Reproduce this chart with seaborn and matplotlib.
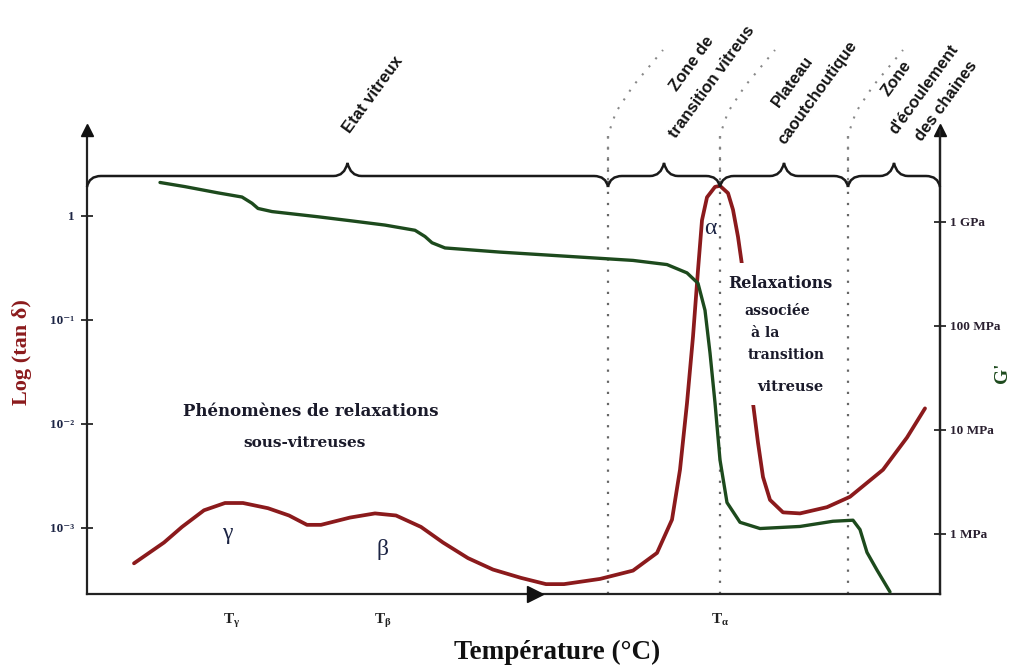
import numpy as np
import pandas as pd
import seaborn as sns
import matplotlib
matplotlib.use("Agg")
import matplotlib.pyplot as plt
from matplotlib.path import Path
from matplotlib.patches import PathPatch, Rectangle

# ---------------- data (temperature in arbitrary units) ----------------
red_T = [47, 77, 95, 117, 138, 156, 181, 202, 220, 234, 263, 288, 309, 334, 356,
         381, 406, 434, 459, 477, 513, 546, 570, 585, 593, 600, 606, 611, 615, 620,
         628, 633, 641, 646, 651, 655, 659, 663, 666, 671, 676, 683, 696, 713, 740,
         763, 796, 820, 838]
red_log_tan = [-3.34, -3.14, -2.99, -2.83, -2.76, -2.76, -2.81, -2.88, -2.97, -2.97,
               -2.90, -2.86, -2.88, -2.99, -3.14, -3.29, -3.40, -3.48, -3.54, -3.54,
               -3.49, -3.41, -3.24, -2.92, -2.44, -1.80, -1.16, -0.52, -0.04, 0.18,
               0.28, 0.29, 0.22, 0.06, -0.20, -0.47, -0.81, -1.29, -1.80, -2.18,
               -2.51, -2.73, -2.85, -2.86, -2.80, -2.70, -2.44, -2.13, -1.85]

green_T = [73, 98, 131, 155, 165, 171, 185, 231, 265, 298, 328, 338, 345, 358, 413,
           463, 513, 546, 580, 600, 611, 618, 623, 628, 633, 640, 653, 673, 713, 746,
           766, 773, 780, 790, 803]
green_log_G = [9.38, 9.34, 9.28, 9.24, 9.18, 9.13, 9.10, 9.05, 9.01, 8.97, 8.92, 8.86,
               8.80, 8.75, 8.71, 8.68, 8.65, 8.63, 8.59, 8.51, 8.41, 8.15, 7.74, 7.26,
               6.71, 6.30, 6.11, 6.05, 6.07, 6.12, 6.13, 6.04, 5.82, 5.65, 5.44]

x_ticks = [145, 296, 633]
x_ticklabels = [r"T$_{γ}$", r"T$_{β}$", r"T$_{α}$"]
zone_bounds = [0, 521, 633, 761, 853]
left_ticks = [1, 0.1, 0.01, 0.001]
left_ticklabels = ["1", "10⁻¹", "10⁻²", "10⁻³"]
right_ticks = [1e9, 1e8, 1e7, 1e6]
right_ticklabels = ["1 GPa", "100 MPa", "10 MPa", "1 MPa"]

red_df = pd.DataFrame({"T": red_T, "tan": 10 ** np.array(red_log_tan)})
green_df = pd.DataFrame({"T": green_T, "G": 10 ** np.array(green_log_G)})

RED = "#8b1a1c"
GREEN = "#1d4a1d"
NAVY = "#1c2444"
INK = "#1a1a2a"

sns.set_style("white")
plt.rcParams["font.family"] = ["Liberation Serif", "DejaVu Serif"]
plt.rcParams["mathtext.fontset"] = "custom"
plt.rcParams["mathtext.rm"] = "Liberation Serif:bold"
plt.rcParams["mathtext.it"] = "Liberation Serif:bold"
plt.rcParams["mathtext.default"] = "regular"

fig = plt.figure(figsize=(10.16, 6.69), dpi=100)
W, H = 1016, 669
ax = fig.add_axes([87 / W, (H - 594) / H, 853 / W, 464 / H])
ax.set_facecolor("none")
ax.set_yscale("log")
ax.set_xlim(0, 853)
ax.set_ylim(10 ** -3.635, 10 ** 0.827)

ax2 = ax.twinx()
ax2.set_yscale("log")
ax2.set_ylim(10 ** 5.42, 10 ** 9.885)

sns.lineplot(data=red_df, x="T", y="tan", ax=ax, color=RED, lw=2.7, sort=False,
             estimator=None, zorder=3)
sns.lineplot(data=green_df, x="T", y="G", ax=ax2, color=GREEN, lw=2.4, sort=False,
             estimator=None, zorder=3)

for a in (ax, ax2):
    a.set_xlabel("")
    a.set_ylabel("")
    a.spines["top"].set_visible(False)
    a.minorticks_off()
    a.grid(False)

for s in ("left", "bottom", "right"):
    for a in (ax, ax2):
        a.spines[s].set_color("#222222")
        a.spines[s].set_linewidth(1.6)
ax2.spines["left"].set_visible(False)
ax2.spines["bottom"].set_visible(False)

# zone dotted lines
for xb in zone_bounds[1:-1]:
    ax.axvline(xb, color="#666666", lw=1.6, ls=(0, (1, 4)), zorder=1)

ax.set_xticks(x_ticks)
ax.set_xticklabels(x_ticklabels)
ax.tick_params(axis="x", direction="inout", length=14, width=1.3, pad=6,
               labelsize=11, colors="#222222")
for t in ax.get_xticklabels():
    t.set_fontweight("bold")

ax.set_yticks(left_ticks)
ax.set_yticklabels(left_ticklabels)
ax.tick_params(axis="y", direction="inout", length=8, width=1.3, pad=5,
               labelsize=9.5, labelcolor=NAVY)
for t in ax.get_yticklabels():
    t.set_fontweight("bold")

ax2.set_yticks(right_ticks)
ax2.set_yticklabels(right_ticklabels)
ax2.tick_params(axis="y", direction="inout", length=8, width=1.3, pad=3,
                labelsize=9.5, labelcolor="#2a2030")
for t in ax2.get_yticklabels():
    t.set_fontweight("bold")

# arrow heads on axes
ax.plot([0], [1], marker="^", ms=9, color="#111111", transform=ax.transAxes,
        clip_on=False, zorder=5)
ax.plot([1], [1], marker="^", ms=9, color="#111111", transform=ax.transAxes,
        clip_on=False, zorder=5)
ax.plot([448], [0], marker=">", ms=11, color="#111111",
        transform=ax.get_xaxis_transform(), clip_on=False, zorder=5)

# ---------------- overlay in pixel coordinates ----------------
ov = fig.add_axes([0, 0, 1, 1])
ov.set_xlim(0, W)
ov.set_ylim(H, 0)
ov.axis("off")
ov.set_facecolor("none")


def px(xdata):
    return 87 + xdata * 853 / 853.0


# braces
yb, hup, dn, r = 176, 13, 11, 14
verts, codes = [], []
for a0, a1 in zip(zone_bounds[:-1], zone_bounds[1:]):
    xa, xb_ = px(a0), px(a1)
    xm = (xa + xb_) / 2
    seg = [(xa, yb + dn), (xa + 2, yb), (xa + r, yb),
           (xm - r, yb), (xm - 3, yb), (xm, yb - hup),
           (xm + 3, yb), (xm + r, yb),
           (xb_ - r, yb), (xb_ - 2, yb), (xb_, yb + dn)]
    c = [Path.MOVETO, Path.CURVE3, Path.CURVE3,
         Path.LINETO, Path.CURVE3, Path.CURVE3,
         Path.CURVE3, Path.CURVE3,
         Path.LINETO, Path.CURVE3, Path.CURVE3]
    verts += seg
    codes += c
ov.add_patch(PathPatch(Path(verts, codes), fill=False, lw=1.8, ec="#1a1a1a"))

# slanted dotted guides above zone boundaries
for xb in zone_bounds[1:-1]:
    x0 = px(xb)
    gx = [x0, x0, x0 + 8, x0 + 25, x0 + 55]
    gy = [180, 135, 112, 86, 50]
    ov.plot(gx, gy, color="#888888", lw=1.5, ls=(0, (1, 4)))

# mask part of the red curve behind the text
ov.add_patch(Rectangle((736, 263), 24, 142, fc="white", ec="none"))

sans = ["Liberation Sans", "DejaVu Sans"]
rot = 54
top_labels = [(373, 95, "Etat vitreux"), (692, 64, "Zone de"),
              (712, 82, "transition vitreus"), (793, 81, "Plateau"),
              (818, 93, "caoutchoutique"), (897, 78, "Zone"),
              (924, 89, "d'écoulement"), (946, 101, "des chaines")]
for tx, ty, s in top_labels:
    ov.text(tx, ty, s, rotation=rot, ha="center", va="center",
            rotation_mode="anchor", fontsize=12, fontweight="bold", family=sans,
            color="#151515")

# axis labels
ov.text(22, 352, "Log (tan δ)", rotation=90, ha="center", va="center",
        fontsize=16, fontweight="bold", color=RED)
ov.text(1002, 373, "G'", rotation=90, ha="center", va="center",
        fontsize=14, fontweight="bold", color=GREEN)
ov.text(557, 652, "Température (°C)", ha="center", va="center",
        fontsize=19.5, fontweight="bold", color="#111111")

# inner annotations
dser = ["DejaVu Serif"]
ov.text(311, 412, "Phénomènes de relaxations", ha="center", va="center",
        fontsize=12, fontweight="bold", color=INK, family=dser)
ov.text(305, 443, "sous-vitreuses", ha="center", va="center",
        fontsize=11, fontweight="bold", color=INK, family=dser)
ov.text(227, 533, "γ", ha="center", va="center", fontsize=17, color=NAVY)
ov.text(383, 549, "β", ha="center", va="center", fontsize=17, color=NAVY)
ov.text(710, 228, "α", ha="center", va="center", fontsize=17, color=NAVY)

ov.text(780, 283, "Relaxations", ha="center", va="center", fontsize=11.5,
        fontweight="bold", color=INK, family=dser)
ov.text(777, 311, "associée", ha="center", va="center", fontsize=10,
        fontweight="bold", color=INK, family=dser)
ov.text(765, 333, "à la", ha="center", va="center", fontsize=10,
        fontweight="bold", color=INK, family=dser)
ov.text(786, 355, "transition", ha="center", va="center", fontsize=10,
        fontweight="bold", color=INK, family=dser)
ov.text(790, 387, "vitreuse", ha="center", va="center", fontsize=10.5,
        fontweight="bold", color=INK, family=dser)

fig.savefig("out.png", dpi=100, facecolor="white")
